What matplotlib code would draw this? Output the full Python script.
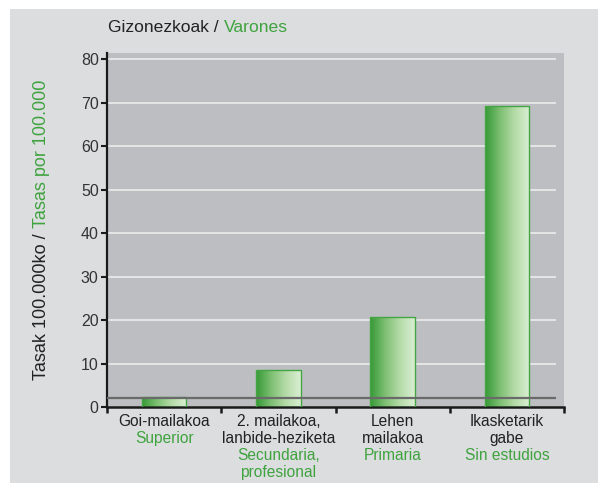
import numpy as np
import matplotlib
matplotlib.use('Agg')
import matplotlib.pyplot as plt
from matplotlib.patches import Rectangle
from matplotlib.colors import LinearSegmentedColormap
import matplotlib.transforms as mtransforms

plt.rcParams['font.family'] = ['Liberation Sans', 'DejaVu Sans']

# data
categories_eu = ['Goi-mailakoa', '2. mailakoa,\nlanbide-heziketa', 'Lehen\nmailakoa', 'Ikasketarik\ngabe']
categories_es = ['Superior', 'Secundaria,\nprofesional', 'Primaria', 'Sin estudios']
rates = [2.2, 8.6, 20.6, 69.1]
reference = 2.1
title_eu = 'Gizonezkoak / '
title_es = 'Varones'
ylabel_eu = 'Tasak 100.000ko / '
ylabel_es = 'Tasas por 100.000'

green = '#3fa33f'
panel = '#dcdddf'
plotbg = '#bdbec2'

fig = plt.figure(figsize=(5.98, 4.83), dpi=100, facecolor='white')
fig.patches.append(Rectangle((10 / 598, 0), 1, 474 / 483, transform=fig.transFigure,
                             facecolor=panel, edgecolor='none', zorder=-10))

ax = fig.add_axes([107 / 598, 76 / 483, 457 / 598, 354 / 483])
ax.set_zorder(1)
ax.set_facecolor(plotbg)

for v in range(10, 90, 10):
    ax.plot([-0.5, 3.43], [v, v], color='#f0f0f0', lw=1.1, zorder=1, solid_capstyle='butt')

x = np.arange(len(rates))
bars = ax.bar(x, rates, width=0.39, facecolor='none', edgecolor='#45a545', lw=1.0, zorder=3)

cmap = LinearSegmentedColormap.from_list('g', ['#379a37', '#7dbf72', '#b5dba8', '#d9eed2'])
grad = np.linspace(0, 1, 64).reshape(1, -1)
for b in bars:
    x0, y0 = b.get_x(), b.get_y()
    im = ax.imshow(grad, cmap=cmap, aspect='auto', extent=(x0, x0 + b.get_width(), y0, y0 + b.get_height()),
                   zorder=2, interpolation='bicubic')
    im.set_clip_path(b)
ax.set_xlim(-0.5, 3.5)
ax.set_ylim(0, 81.4)

ax.plot([-0.5, 3.43], [reference, reference], color='#6a6a6a', lw=1.6, zorder=4, solid_capstyle='butt')

for s in ['top', 'right']:
    ax.spines[s].set_visible(False)
ax.spines['left'].set_linewidth(1.6)
ax.spines['bottom'].set_linewidth(1.8)
ax.spines['left'].set_color('#1a1a1a')
ax.spines['bottom'].set_color('#1a1a1a')

ax.set_yticks(range(0, 90, 10))
ax.tick_params(axis='y', direction='out', length=4, width=1.5, labelsize=11.5, colors='#1a1a1a', pad=2)
for lab in ax.get_yticklabels():
    lab.set_color('#333333')
ax.set_xticks([-0.5, 0.5, 1.5, 2.5, 3.5])
ax.set_xticklabels([])
ax.tick_params(axis='x', direction='out', length=4, width=1.8, colors='#1a1a1a')

# category labels: basque lines in black, spanish lines in green
lh = 17
for i in range(len(categories_eu)):
    lines = [(t, '#222222') for t in categories_eu[i].split('\n')] + \
            [(t, green) for t in categories_es[i].split('\n')]
    for j, (t, c) in enumerate(lines):
        tr = mtransforms.offset_copy(ax.get_xaxis_transform(), fig=fig, x=0, y=-(7 + lh * j), units='dots')
        ax.text(x[i], 0, t, transform=tr, ha='center', va='top', fontsize=11.2, color=c, clip_on=False)

# title
t1 = fig.text(108 / 598, 1 - 28 / 483, title_eu, ha='left', va='center', fontsize=12.6, color='#222222')
# ylabel
y1 = fig.text(42 / 598, 1 - 380 / 483, ylabel_eu, ha='center', va='bottom', rotation=90,
              fontsize=13, color='#222222')
fig.canvas.draw()
r = fig.canvas.get_renderer()
bb = t1.get_window_extent(r)
fig.text(bb.x1 / 598, 1 - 28 / 483, title_es, ha='left', va='center', fontsize=12.6, color=green)
bb = y1.get_window_extent(r)
fig.text(42 / 598, bb.y1 / 483, ylabel_es, ha='center', va='bottom', rotation=90,
         fontsize=13, color=green)

fig.savefig('out.png', dpi=100, facecolor='white')
